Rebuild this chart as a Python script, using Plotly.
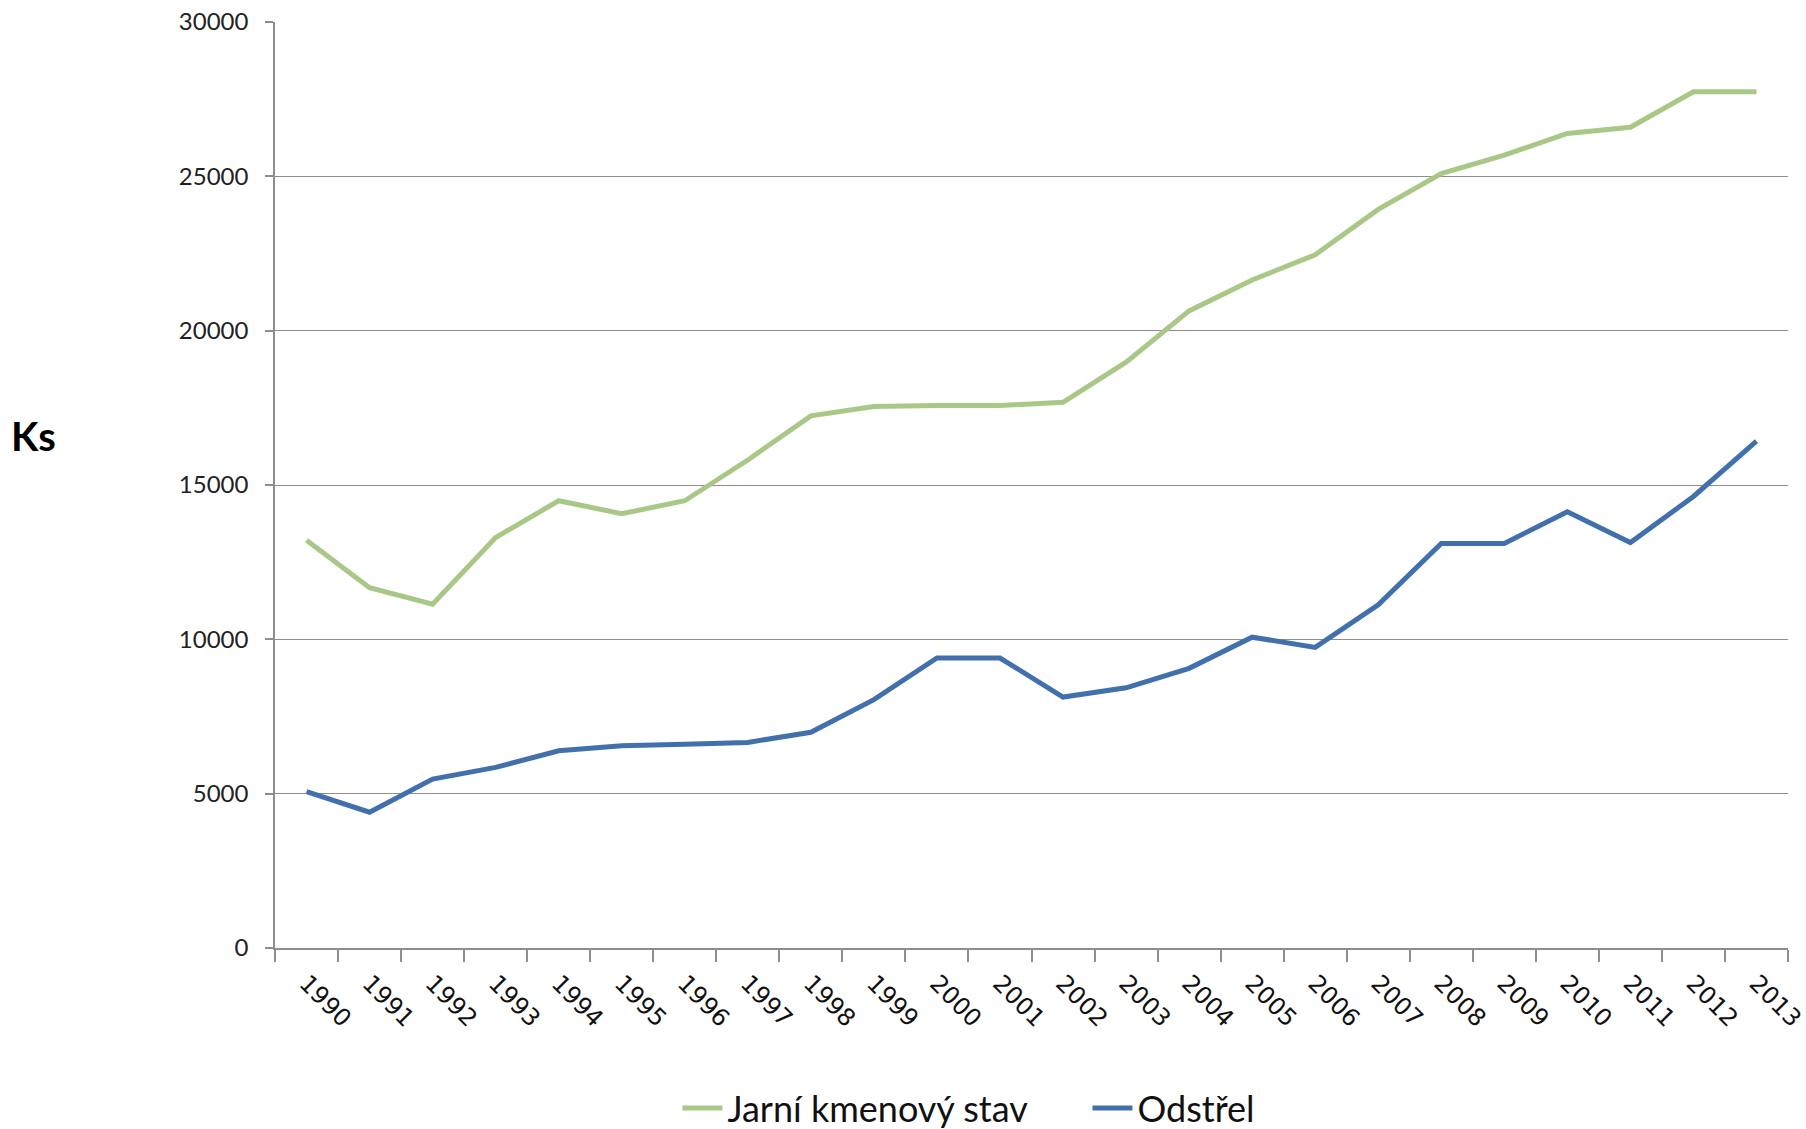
import plotly.graph_objects as go

years = [str(y) for y in range(1990, 2014)]
jarni_kmenovy_stav = [13210, 11670, 11140, 13300, 14490, 14070, 14490, 15810, 17240, 17540,
                      17575, 17575, 17680, 18980, 20640, 21640, 22460, 23930, 25090, 25690,
                      26390, 26590, 27740, 27740]
odstrel = [5065, 4400, 5470, 5850, 6390, 6555, 6605, 6660, 6990, 8045,
           9395, 9395, 8130, 8430, 9060, 10070, 9740, 11120, 13105, 13105,
           14135, 13135, 14628, 16420]
y_ticks = [0, 5000, 10000, 15000, 20000, 25000, 30000]

GREEN = "#A9C887"
BLUE = "#4170AC"
GRID = "#8E8E8E"

fig = go.Figure()
fig.add_trace(go.Scatter(x=years, y=jarni_kmenovy_stav, mode="lines",
                         name="Jarní kmenový stav",
                         line=dict(color=GREEN, width=5)))
fig.add_trace(go.Scatter(x=years, y=odstrel, mode="lines", name="Odstřel",
                         line=dict(color=BLUE, width=5)))

fig.update_layout(
    width=1806, height=1129,
    margin=dict(l=275, r=18, t=22, b=181, autoexpand=False),
    paper_bgcolor="white", plot_bgcolor="white",
    font=dict(family="Lato, sans-serif", color="#1a1a1a"),
    showlegend=True,
    legend=dict(orientation="h", x=0.266, xanchor="left", y=-0.173, yanchor="middle",
                font=dict(family="Lato", size=36, color="#111"),
                itemwidth=40, tracegroupgap=0,
                entrywidth=355, entrywidthmode="pixels"),
    annotations=[dict(text="<b>Ks</b>", xref="paper", yref="paper",
                      x=-0.176, y=0.553, xanchor="left", yanchor="middle",
                      showarrow=False, font=dict(family="Lato", size=40, color="#000"))],
)
fig.update_xaxes(
    type="category", categoryorder="array", categoryarray=years,
    range=[-0.5, len(years) - 0.5], automargin=False,
    showline=True, linecolor=GRID, linewidth=1.5,
    showgrid=False, zeroline=False,
    ticks="outside", tickson="boundaries", ticklen=12, tickcolor=GRID, tickwidth=1.5,
    tickangle=45, ticklabelstandoff=10, ticklabeloverflow="allow",
    tickfont=dict(family="DejaVu Sans", size=24, color="#111"),
)
fig.update_yaxes(
    range=[0, 30000], tickvals=y_ticks, ticktext=[str(v) for v in y_ticks],
    automargin=False,
    showline=True, linecolor=GRID, linewidth=1.5,
    showgrid=True, gridcolor=GRID, gridwidth=1.2,
    zeroline=False,
    ticks="outside", ticklen=8, tickcolor=GRID, tickwidth=1.5,
    ticklabelstandoff=12, ticklabeloverflow="allow",
    tickfont=dict(family="Lato", size=24, color="#222"),
)

fig.write_html("out.html", config={"displayModeBar": False},
               post_script="document.body.style.margin='0';document.body.style.overflow='hidden';")
